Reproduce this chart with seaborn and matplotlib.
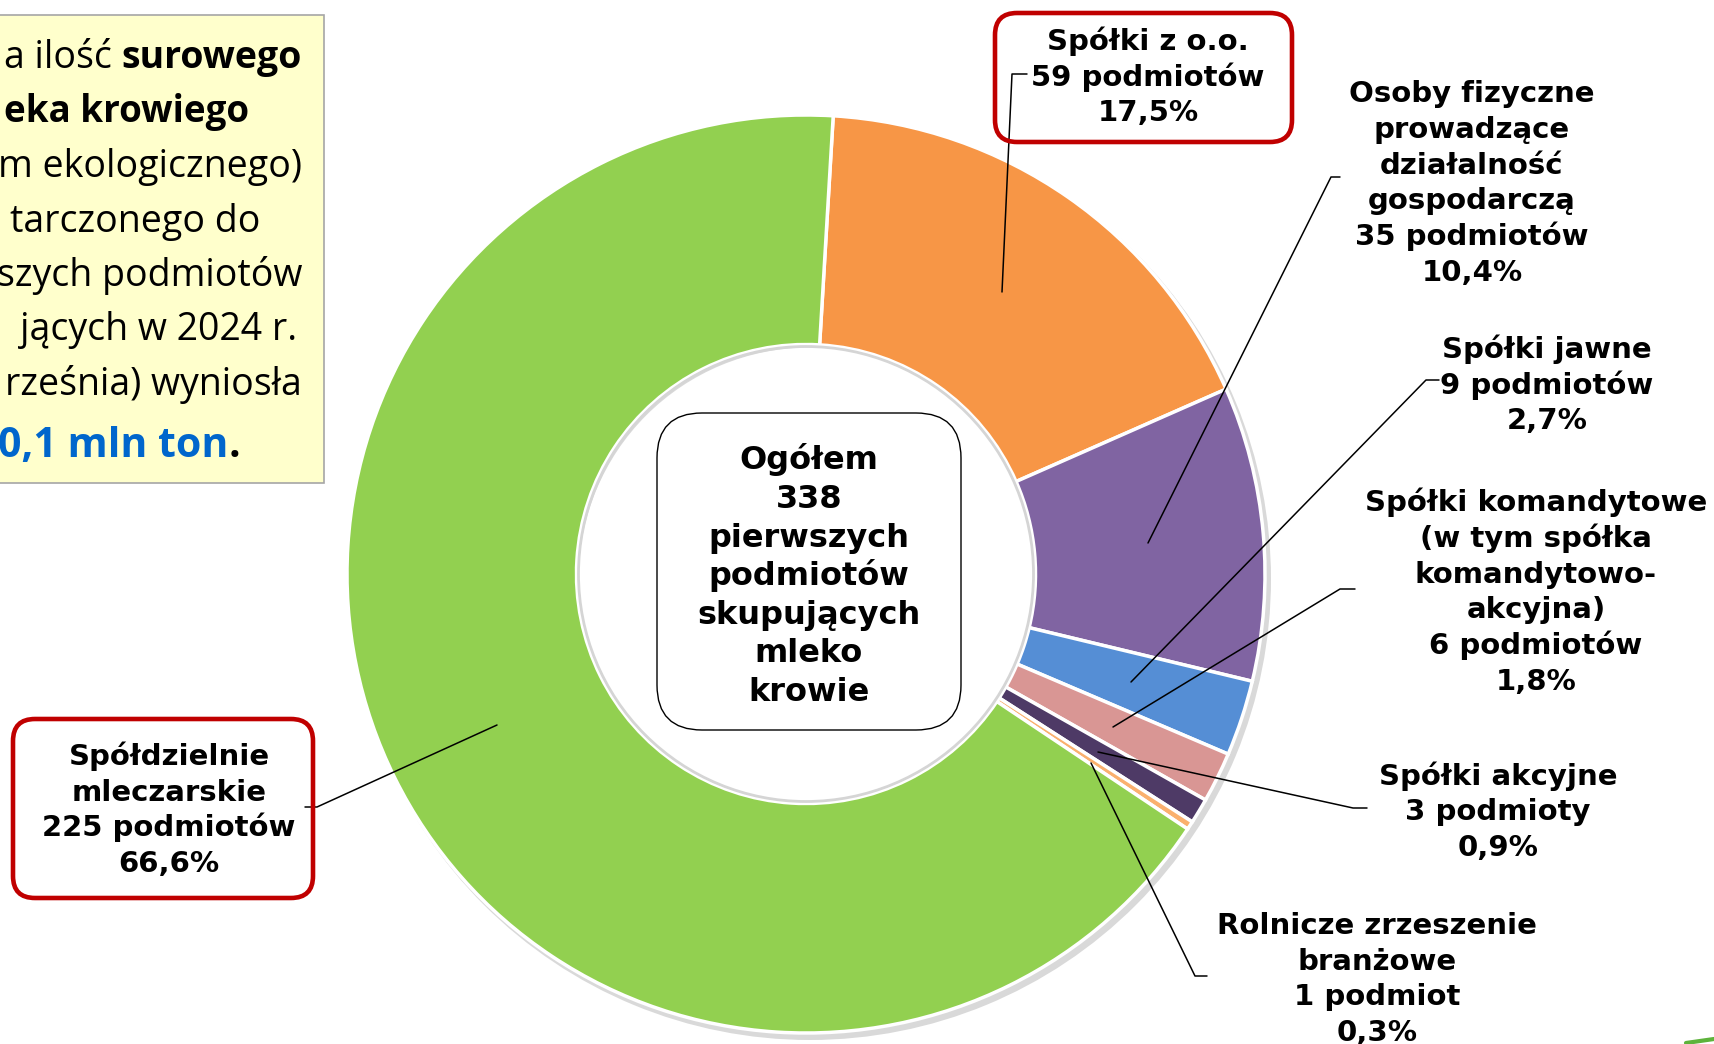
import matplotlib
matplotlib.use("Agg")
import matplotlib.pyplot as plt
import seaborn as sns
from matplotlib.patches import FancyBboxPatch, Rectangle, Wedge, Circle

sns.set_theme(style="white")
plt.rcParams["font.family"] = ["DejaVu Sans"]

# ============================================================
# Data (clockwise from the top)
# ============================================================
categories = ["Spółki z o.o.", "Osoby fizyczne prowadzące działalność gospodarczą",
              "Spółki jawne", "Spółki komandytowe", "Spółki akcyjne",
              "Rolnicze zrzeszenie branżowe", "Spółdzielnie mleczarskie"]
counts = [59, 35, 9, 6, 3, 1, 225]
shares = ["17,5%", "10,4%", "2,7%", "1,8%", "0,9%", "0,3%", "66,6%"]
colors = ["#F79646", "#8064A2", "#558ED5", "#D99694", "#4E3A66", "#FAB06E", "#92D050"]
labels = [
    ["Spółki z o.o.", "59 podmiotów", "17,5%"],
    ["Osoby fizyczne", "prowadzące", "działalność", "gospodarczą", "35 podmiotów", "10,4%"],
    ["Spółki jawne", "9 podmiotów", "2,7%"],
    ["Spółki komandytowe", "(w tym spółka", "komandytowo-", "akcyjna)", "6 podmiotów", "1,8%"],
    ["Spółki akcyjne", "3 podmioty", "0,9%"],
    ["Rolnicze zrzeszenie", "branżowe", "1 podmiot", "0,3%"],
    ["Spółdzielnie", "mleczarskie", "225 podmiotów", "66,6%"],
]
center_lines = ["Ogółem", "338", "pierwszych", "podmiotów", "skupujących", "mleko", "krowie"]

W, H = 1714, 1044
def Y(y):
    return H - y

fig = plt.figure(figsize=(W / 100, H / 100), dpi=100)
ax = fig.add_axes([0, 0, 1, 1])

# ============================================================
# Donut
# ============================================================
cx, cy, R = 806, 574, 459
ax.add_patch(Wedge((cx + 4, Y(cy) - 5), R + 2, 0, 360, width=R * 0.5,
                   facecolor="#C9C9C9", edgecolor="none", alpha=0.7, zorder=1))
palette = sns.color_palette(colors)
wedges, _ = ax.pie(counts, colors=palette, startangle=86.6, counterclock=False,
                   center=(cx, Y(cy)), radius=R,
                   wedgeprops=dict(width=R * 0.5, edgecolor="white", linewidth=2.5))
for w in wedges:
    w.set_zorder(2)
ax.add_patch(Circle((cx, Y(cy)), R * 0.5 - 2, facecolor="none", edgecolor="#D5D5D5",
                    linewidth=2, zorder=3))

# center box
ax.add_patch(FancyBboxPatch((657, Y(730)), 304, 317,
                            boxstyle="round,pad=0,rounding_size=45",
                            facecolor="white", edgecolor="black", linewidth=1, zorder=4))
for i, line in enumerate(center_lines):
    yc = 458 + i * 38.6
    ax.text(809, Y(yc + 11.5), line, ha="center", va="baseline",
            fontsize=23, fontweight="bold", color="black", zorder=5)

# ============================================================
# Labels and leader lines
# ============================================================
label_pos = [(1148, 75), (1472, 181), (1547, 383), (1536, 590),
             (1498, 810), (1377, 977), (169, 808)]
leaders = [
    [(1002, 292), (1012, 74), (1027, 74)],
    [(1148, 543), (1331, 177), (1340, 177)],
    [(1131, 682), (1426, 380), (1439, 380)],
    [(1113, 727), (1340, 589), (1355, 589)],
    [(1098, 752), (1353, 808), (1367, 808)],
    [(1091, 763), (1195, 976), (1207, 976)],
    [(497, 725), (317, 807), (305, 807)],
]
spacing = 35.7
for lines, (lx, ly), pts in zip(labels, label_pos, leaders):
    n = len(lines)
    for i, line in enumerate(lines):
        yc = ly + (i - (n - 1) / 2) * spacing
        ax.text(lx, Y(yc + 10.5), line, ha="center", va="baseline",
                fontsize=21, fontweight="bold", color="black", zorder=6)
    ax.plot([p[0] for p in pts], [Y(p[1]) for p in pts], color="black",
            linewidth=1.1, zorder=5)

# red frames
for x0, y0, x1, y1 in [(995, 13, 1292, 142), (13, 719, 313, 898)]:
    ax.add_patch(FancyBboxPatch((x0, Y(y1)), x1 - x0, y1 - y0,
                                boxstyle="round,pad=0,rounding_size=22",
                                facecolor="none", edgecolor="#C00000",
                                linewidth=3.3, zorder=7))

# ============================================================
# Left yellow text box (cut at the slide edge)
# ============================================================
ax.add_patch(Rectangle((-20, Y(483)), 344, 468, facecolor="#FFFFCC",
                       edgecolor="#A6A6A6", linewidth=1.2, zorder=1))
left_lines = [
    (68, 302, [("a ilość ", "normal", "black"), ("surowego", "bold", "black")], 27),
    (122, 249, [("eka krowiego", "bold", "black")], 26.5),
    (177, 302, [("m ekologicznego)", "normal", "black")], 27),
    (232, 260, [("tarczonego do", "normal", "black")], 27),
    (286, 302, [("szych podmiotów", "normal", "black")], 27),
    (340, 297, [("jących w 2024 r.", "normal", "black")], 27),
    (395, 302, [("rześnia) wyniosła", "normal", "black")], 27),
    (457, 240, [("0,1 mln ton", "bold", "#0066CC"), (".", "bold", "black")], 29.5),
]
for yb, xr, segs, fs in left_lines:
    prev = None
    for txt, wt, col in reversed(segs):
        if prev is None:
            prev = ax.text(xr, Y(yb), txt, ha="right", va="baseline", fontsize=fs,
                           fontweight=wt, color=col, family=["Open Sans"], zorder=2)
        else:
            prev = ax.annotate(txt, xy=(0, 0), xycoords=prev, ha="right", va="bottom",
                               fontsize=fs, fontweight=wt, color=col,
                               family=["Open Sans"], zorder=2)

# small slide decoration in the bottom-right corner
ax.plot([1686, 1714], [Y(1043), Y(1039)], color="#5DB33B", linewidth=3, zorder=1)

ax.set_xlim(0, W)
ax.set_ylim(0, H)
ax.set_aspect("auto")
ax.axis("off")

plt.savefig("out.png", dpi=100)
plt.close()
